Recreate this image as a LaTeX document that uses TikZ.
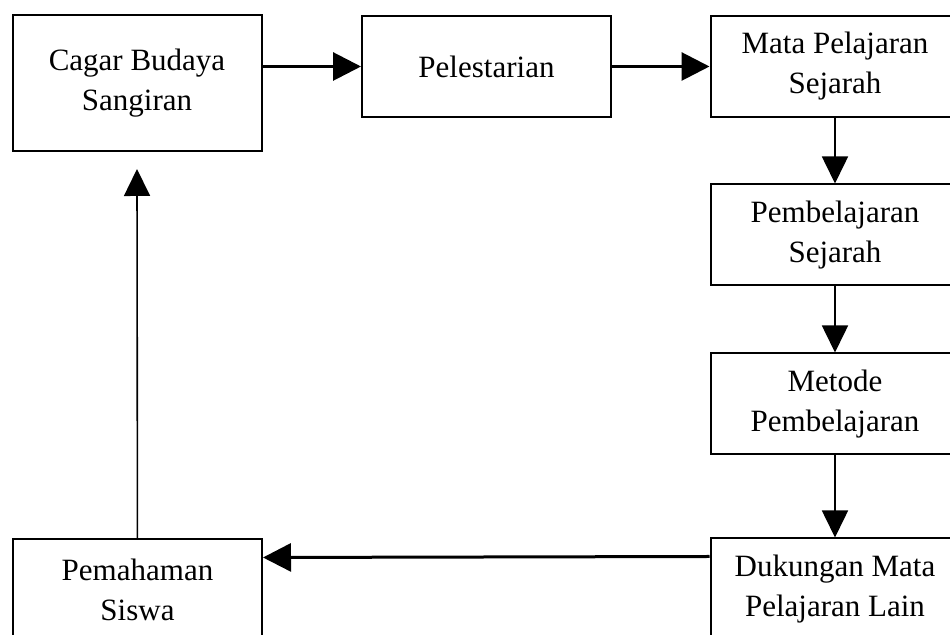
\documentclass[tikz,border=0pt]{standalone}
\usepackage{fontspec}
\setmainfont{Liberation Serif}
\usetikzlibrary{positioning,arrows.meta}

\begin{document}
\begin{tikzpicture}[x=0.5pt,y=-0.5pt,
                box/.style={rectangle,draw=black,line width=1pt,fill=white,align=center,
                    inner sep=0pt,minimum width=124.5pt,minimum height=50.5pt,
                    font=\fontsize{15.5}{20}\selectfont},
                flow/.style={line width=1.5pt,-{Triangle[length=14pt,width=14pt]}},
                down/.style={line width=0.8pt,-{Triangle[length=13.5pt,width=13pt]}}
            ]
                \useasboundingbox (0,0) rectangle (950,635);
                \clip (0,0) rectangle (950,635);

                \node[box,minimum height=68pt] (cagar) at (137,83) {Cagar Budaya\\Sangiran};
                \node[box] (lestari) at (486.5,66.5) {Pelestarian};
                \node[box] (mapel) at (835,66.5) {Mata Pelajaran\\Sejarah};
                \node[box] (belajar) at (835,235) {Pembelajaran\\Sejarah};
                \node[box] (metode) at (835,404) {Metode\\Pembelajaran};
                \node[box] (dukung) at (835,589) {Dukungan Mata\\Pelajaran Lain};
                \node[box] (paham) at (137.5,590) {Pemahaman\\Siswa};

                \coordinate (tip) at ([yshift=-8.5pt]cagar.south);

% top row
                \draw[flow] (cagar.east |- lestari.west) -- (lestari.west);
                \draw[flow] (lestari) -- (mapel);
% right column
                \draw[down] (mapel) -- (belajar);
                \draw[down] (belajar) -- (metode);
                \draw[down] (metode) -- (dukung);
% back to the start
                \draw[flow] ([yshift=-9.5pt]dukung.north west) -- ([yshift=-9.5pt]paham.north east);
                \draw[down] (paham) -- (tip);

            \end{tikzpicture}
\end{document}
